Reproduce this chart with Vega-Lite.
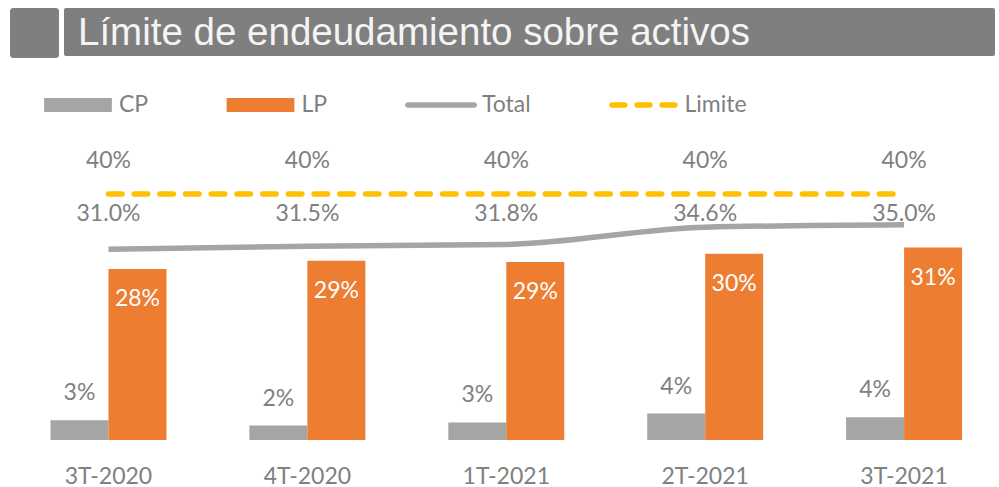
{
  "$schema": "https://vega.github.io/schema/vega-lite/v6.json",
  "padding": {"left": 10, "top": 8, "right": 0, "bottom": 0},
  "background": "white",
  "config": {"view": {"stroke": null}},
  "resolve": {"scale": {"color": "independent"}, "legend": {"color": "independent"}},
  "datasets": {
    "bars": [
      {"q": "3T-2020", "s": "CP", "v": 0.032},
      {"q": "3T-2020", "s": "LP", "v": 0.278},
      {"q": "4T-2020", "s": "CP", "v": 0.0235},
      {"q": "4T-2020", "s": "LP", "v": 0.2915},
      {"q": "1T-2021", "s": "CP", "v": 0.0285},
      {"q": "1T-2021", "s": "LP", "v": 0.2895},
      {"q": "2T-2021", "s": "CP", "v": 0.043},
      {"q": "2T-2021", "s": "LP", "v": 0.303},
      {"q": "3T-2021", "s": "CP", "v": 0.037},
      {"q": "3T-2021", "s": "LP", "v": 0.313}
    ],
    "lines": [
      {"q": "3T-2020", "total": 0.310, "lim": 0.40},
      {"q": "4T-2020", "total": 0.315, "lim": 0.40},
      {"q": "1T-2021", "total": 0.318, "lim": 0.40},
      {"q": "2T-2021", "total": 0.346, "lim": 0.40},
      {"q": "3T-2021", "total": 0.350, "lim": 0.40}
    ]
  },
  "spacing": 13,
  "vconcat": [
    {
      "spacing": 5,
      "hconcat": [
        {
          "width": 49, "height": 50,
          "data": {"values": [{}]},
          "mark": {"type": "rect", "color": "#7f7f7f", "cornerRadius": 3},
          "encoding": {}
        },
        {
          "width": 931, "height": 48,
          "data": {"values": [{}]},
          "mark": {"type": "rect", "color": "#7f7f7f", "cornerRadius": 2},
          "encoding": {},
          "title": {
            "text": "Límite de endeudamiento sobre activos",
            "orient": "bottom", "anchor": "start", "offset": -11, "dx": 14,
            "baseline": "alphabetic",
            "font": "Liberation Sans", "fontSize": 38.5, "fontWeight": "normal",
            "color": "#f4f4f4"
          }
        }
      ]
    },
    {
      "width": 989,
      "height": 300,
      "layer": [
        {
          "data": {"name": "bars"},
          "mark": {"type": "bar"},
          "encoding": {
            "x": {
              "field": "q", "type": "nominal", "sort": null,
              "scale": {"domain": ["3T-2020", "4T-2020", "1T-2021", "2T-2021", "3T-2021"], "paddingInner": 0.417, "paddingOuter": 0.1946, "align": 0.523},
              "axis": {"title": null, "domain": false, "ticks": false, "labelAngle": 0, "labelFont": "Lato", "labelFontSize": 23, "labelColor": "#808080", "labelPadding": 25}
            },
            "xOffset": {"field": "s", "type": "nominal", "scale": {"domain": ["CP", "LP"], "paddingInner": 0, "paddingOuter": 0}},
            "y": {"field": "v", "type": "quantitative", "scale": {"domain": [0, 0.4878], "nice": false, "zero": true}, "axis": null},
            "color": {
              "field": "s", "type": "nominal",
              "scale": {"domain": ["CP", "LP", "Total", "Limite"], "range": ["#a5a5a5", "#ed7d31", "#a5a5a5", "#ffc000"]},
              "legend": {
                "orient": "none", "legendX": 34, "legendY": -69, "direction": "horizontal",
                "title": null, "padding": 0,
                "values": ["CP", "LP", "Total", "Limite"],
                "symbolType": "M-1,-0.207H1V0.207H-1Z", "symbolSize": 4583, "symbolStrokeWidth": 0,
                "labelFont": "Lato", "labelFontSize": 23, "labelColor": "#808080",
                "labelOffset": 7, "columnPadding": 77.5,
                "encode": {
                  "symbols": {
                    "update": {
                      "size": {"value": 4583},
                      "shape": {"signal": "datum.value == 'CP' || datum.value == 'LP' ? 'M-1,-0.207H1V0.207H-1Z' : (datum.value == 'Total' ? 'M-0.982,-0.081H0.982A0.081,0.081 0 0 1 0.982,0.081H-0.982A0.081,0.081 0 0 1 -0.982,-0.081Z' : 'M-0.932,-0.081H-0.548A0.081,0.081 0 0 1 -0.548,0.081H-0.932A0.081,0.081 0 0 1 -0.932,-0.081ZM-0.191,-0.081H0.191A0.081,0.081 0 0 1 0.191,0.081H-0.191A0.081,0.081 0 0 1 -0.191,-0.081ZM0.548,-0.081H0.932A0.081,0.081 0 0 1 0.932,0.081H0.548A0.081,0.081 0 0 1 0.548,-0.081Z')"},
                      "fill": {"signal": "datum.value == 'CP' || datum.value == 'Total' ? '#a5a5a5' : (datum.value == 'LP' ? '#ed7d31' : '#ffc000')"},
                      "strokeWidth": {"value": 0},
                      "opacity": {"value": 1}
                    }
                  }
                }
              }
            }
          }
        },
        {
          "data": {"name": "bars"},
          "transform": [{"filter": "datum.s == 'CP'"}],
          "mark": {"type": "text", "dy": -27, "font": "Lato", "fontSize": 23, "color": "#808080"},
          "encoding": {
            "x": {"field": "q", "type": "nominal", "sort": null},
            "xOffset": {"field": "s", "type": "nominal"},
            "y": {"field": "v", "type": "quantitative", "axis": null},
            "text": {"field": "v", "type": "quantitative", "format": ".0%"}
          }
        },
        {
          "data": {"name": "bars"},
          "transform": [{"filter": "datum.s == 'LP'"}],
          "mark": {"type": "text", "dy": 30, "font": "Lato", "fontSize": 23, "color": "#ffffff"},
          "encoding": {
            "x": {"field": "q", "type": "nominal", "sort": null},
            "xOffset": {"field": "s", "type": "nominal"},
            "y": {"field": "v", "type": "quantitative", "axis": null},
            "text": {"field": "v", "type": "quantitative", "format": ".0%"}
          }
        },
        {
          "data": {"name": "lines"},
          "mark": {"type": "line", "strokeWidth": 5.5, "interpolate": "monotone"},
          "encoding": {
            "x": {"field": "q", "type": "nominal", "sort": null},
            "y": {"field": "total", "type": "quantitative", "axis": null},
            "color": {"datum": "Total"}
          }
        },
        {
          "data": {"name": "lines"},
          "mark": {"type": "line", "strokeWidth": 5.5, "strokeDash": [13.5, 12.2], "strokeCap": "round"},
          "encoding": {
            "x": {"field": "q", "type": "nominal", "sort": null},
            "y": {"field": "lim", "type": "quantitative", "axis": null},
            "color": {"datum": "Limite"}
          }
        },
        {
          "data": {"name": "lines"},
          "mark": {"type": "text", "dy": -33, "font": "Lato", "fontSize": 23, "color": "#808080"},
          "encoding": {
            "x": {"field": "q", "type": "nominal", "sort": null},
            "y": {"field": "lim", "type": "quantitative", "axis": null},
            "text": {"field": "lim", "type": "quantitative", "format": ".0%"}
          }
        },
        {
          "data": {"name": "lines"},
          "mark": {"type": "text", "dy": 20, "font": "Lato", "fontSize": 23, "color": "#808080"},
          "encoding": {
            "x": {"field": "q", "type": "nominal", "sort": null},
            "y": {"field": "lim", "type": "quantitative", "axis": null},
            "text": {"field": "total", "type": "quantitative", "format": ".1%"}
          }
        }
      ]
    }
  ]
}
